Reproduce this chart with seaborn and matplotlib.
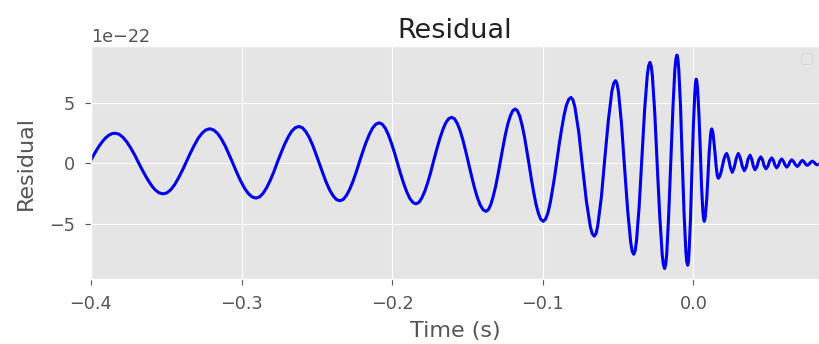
import numpy as np
import pandas as pd
import matplotlib
matplotlib.use("Agg")
import matplotlib.pyplot as plt
import seaborn as sns

# Residual waveform, points (time in s, residual in units of 1e-22)
time_s = [
    -0.4000, -0.3980, -0.3960, -0.3940, -0.3920, -0.3900, -0.3880, -0.3860, -0.3841,
    -0.3814, -0.3788, -0.3761, -0.3734, -0.3707, -0.3681, -0.3654, -0.3627, -0.3600, -0.3574, -0.3547, -0.3520,
    -0.3494, -0.3468, -0.3443, -0.3417, -0.3391, -0.3365, -0.3339, -0.3313, -0.3288, -0.3262, -0.3236, -0.3210,
    -0.3185, -0.3159, -0.3134, -0.3108, -0.3083, -0.3057, -0.3032, -0.3006, -0.2981, -0.2955, -0.2930, -0.2904,
    -0.2880, -0.2857, -0.2833, -0.2809, -0.2785, -0.2762, -0.2738, -0.2714, -0.2690, -0.2667, -0.2643, -0.2619,
    -0.2596, -0.2574, -0.2551, -0.2528, -0.2506, -0.2483, -0.2460, -0.2438, -0.2415, -0.2392, -0.2370, -0.2347,
    -0.2325, -0.2304, -0.2282, -0.2260, -0.2238, -0.2217, -0.2195, -0.2173, -0.2151, -0.2130, -0.2108, -0.2086,
    -0.2066, -0.2045, -0.2025, -0.2005, -0.1984, -0.1964, -0.1944, -0.1923, -0.1903, -0.1883, -0.1862, -0.1842,
    -0.1822, -0.1803, -0.1783, -0.1763, -0.1743, -0.1724, -0.1704, -0.1684, -0.1664, -0.1645, -0.1625, -0.1605,
    -0.1586, -0.1567, -0.1548, -0.1529, -0.1510, -0.1491, -0.1472, -0.1453, -0.1434, -0.1415, -0.1396, -0.1377,
    -0.1361, -0.1345, -0.1329, -0.1312, -0.1296, -0.1280, -0.1264, -0.1248, -0.1232, -0.1215, -0.1199, -0.1183,
    -0.1168, -0.1152, -0.1137, -0.1121, -0.1106, -0.1090, -0.1075, -0.1059, -0.1044, -0.1028, -0.1013, -0.0997,
    -0.0982, -0.0966, -0.0951, -0.0936, -0.0920, -0.0905, -0.0890, -0.0874, -0.0859, -0.0844, -0.0828, -0.0813,
    -0.0800, -0.0787, -0.0761, -0.0736, -0.0710, -0.0684, -0.0671, -0.0658,
    -0.0646, -0.0635, -0.0611, -0.0588, -0.0564, -0.0541, -0.0529, -0.0517,
    -0.0507, -0.0497, -0.0477, -0.0457, -0.0436, -0.0416, -0.0406, -0.0396,
    -0.0387, -0.0378, -0.0360, -0.0342, -0.0324, -0.0306, -0.0297, -0.0288,
    -0.0280, -0.0272, -0.0256, -0.0240, -0.0223, -0.0207, -0.0199, -0.0191,
    -0.0184, -0.0177, -0.0164, -0.0150, -0.0136, -0.0123, -0.0116, -0.0109,
    -0.0103, -0.0097, -0.0085, -0.0074, -0.0062, -0.0050, -0.0044, -0.0038,
    -0.0033, -0.0029, -0.0019, -0.0010, 0.0000, 0.0010, 0.0014, 0.0019,
    0.0023, 0.0028, 0.0037, 0.0046, 0.0054, 0.0063, 0.0068, 0.0072,
    0.0076, 0.0080, 0.0089, 0.0097, 0.0105, 0.0114, 0.0118, 0.0122,
    0.0129, 0.0136, 0.0144, 0.0151, 0.0158, 0.0165,
    0.0174, 0.0184, 0.0193, 0.0202, 0.0212, 0.0221,
    0.0233, 0.0246, 0.0258,
    0.0271, 0.0285, 0.0298,
    0.0311, 0.0325, 0.0338,
    0.0351, 0.0363, 0.0376,
    0.0387, 0.0398, 0.0409,
    0.0422, 0.0434, 0.0447,
    0.0459, 0.0470, 0.0482,
    0.0495, 0.0507, 0.0520,
    0.0531, 0.0542, 0.0553,
    0.0564, 0.0575, 0.0586,
    0.0597, 0.0609, 0.0620,
    0.0631, 0.0642, 0.0653,
    0.0665, 0.0678, 0.0690,
    0.0701, 0.0712, 0.0723,
    0.0734, 0.0745, 0.0756,
    0.0767, 0.0779, 0.0790,
    0.0801, 0.0812, 0.0823, 0.0835,
]
residual_e22 = [
    0.27, 0.72, 1.15, 1.53, 1.86, 2.13, 2.33, 2.45, 2.49,
    2.41, 2.16, 1.76, 1.24, 0.64, -0.01, -0.65, -1.25, -1.77, -2.17, -2.42, -2.50,
    -2.41, -2.14, -1.72, -1.16, -0.52, 0.18, 0.87, 1.51, 2.07, 2.49, 2.76, 2.85,
    2.75, 2.47, 2.02, 1.43, 0.74, 0.00, -0.74, -1.43, -2.02, -2.47, -2.75, -2.85,
    -2.75, -2.46, -1.99, -1.38, -0.67, 0.10, 0.86, 1.57, 2.18, 2.65, 2.94, 3.04,
    2.94, 2.63, 2.15, 1.51, 0.78, -0.02, -0.81, -1.54, -2.18, -2.66, -2.97, -3.07,
    -2.96, -2.64, -2.13, -1.47, -0.69, 0.14, 0.96, 1.74, 2.40, 2.91, 3.23, 3.34,
    3.23, 2.89, 2.36, 1.68, 0.87, 0.01, -0.85, -1.66, -2.34, -2.87, -3.21, -3.32,
    -3.20, -2.84, -2.28, -1.54, -0.68, 0.24, 1.16, 2.02, 2.76, 3.32, 3.68, 3.80,
    3.67, 3.28, 2.67, 1.87, 0.93, -0.07, -1.07, -2.01, -2.81, -3.42, -3.81, -3.94,
    -3.80, -3.38, -2.71, -1.84, -0.82, 0.27, 1.36, 2.38, 3.25, 3.92, 4.34, 4.48,
    4.32, 3.86, 3.13, 2.17, 1.06, -0.14, -1.34, -2.45, -3.41, -4.14, -4.60, -4.76,
    -4.59, -4.08, -3.27, -2.21, -0.98, 0.34, 1.65, 2.88, 3.94, 4.75, 5.26, 5.43,
    5.24, 4.67, 2.58, -0.28, -3.13, -5.22, -5.79, -5.98,
    -5.76, -5.12, -2.78, 0.42, 3.61, 5.95, 6.59, 6.81,
    6.57, 5.85, 3.24, -0.33, -3.90, -6.51, -7.23, -7.47,
    -7.20, -6.41, -3.53, 0.42, 4.37, 7.25, 8.04, 8.31,
    8.02, 7.17, 4.07, -0.17, -4.40, -7.50, -8.35, -8.64,
    -8.34, -7.46, -4.25, 0.14, 4.52, 7.73, 8.61, 8.91,
    8.62, 7.75, 4.59, 0.27, -4.05, -7.21, -8.08, -8.37,
    -8.11, -7.35, -4.55, -0.72, 3.11, 5.91, 6.67, 6.93,
    6.73, 6.15, 4.01, 1.09, -1.84, -3.98, -4.56, -4.76,
    -4.63, -4.25, -2.86, -0.96, 0.94, 2.33, 2.71, 2.84,
    2.57, 1.83, 0.81, -0.21, -0.95, -1.22,
    -1.08, -0.71, -0.20, 0.31, 0.68, 0.82,
    0.43, -0.34, -0.73,
    -0.34, 0.43, 0.82,
    0.47, -0.25, -0.60,
    -0.28, 0.36, 0.68,
    0.38, -0.22, -0.52,
    -0.26, 0.28, 0.54,
    0.30, -0.20, -0.44,
    -0.22, 0.24, 0.46,
    0.26, -0.16, -0.36,
    -0.18, 0.19, 0.37,
    0.20, -0.13, -0.30,
    -0.15, 0.15, 0.30,
    0.16, -0.11, -0.25,
    -0.12, 0.12, 0.25,
    0.15, -0.06, -0.16,
    -0.07, 0.10, 0.19,
    0.10, -0.05, -0.12, -0.05,
]
x_ticks = [-0.4, -0.3, -0.2, -0.1, 0.0]
y_ticks_e22 = [-5, 0, 5]

df = pd.DataFrame({"Time (s)": time_s,
                   "Residual": np.array(residual_e22) * 1e-22})

plt.style.use("ggplot")
fig = plt.figure(figsize=(8.19, 3.44), dpi=100)
ax = fig.add_axes([0.111, 0.189, 0.889, 0.677])

sns.lineplot(data=df, x="Time (s)", y="Residual", color="#0000ee",
             linewidth=2.2, estimator=None, sort=False, ax=ax)

ax.set_xlim(-0.4, 0.0834)
ax.set_ylim(-9.5e-22, 9.65e-22)
ax.set_xticks(x_ticks)
ax.set_yticks(np.array(y_ticks_e22) * 1e-22)
ax.tick_params(axis="both", labelsize=12.7, colors="#555555",
               length=4, pad=7.5)
ax.yaxis.get_offset_text().set_fontsize(12.7)
ax.yaxis.get_offset_text().set_color("#555555")
ax.set_xlabel("Time (s)", fontsize=16, color="#555555")
ax.set_ylabel("Residual", fontsize=16, color="#555555")
ax.xaxis.set_label_coords(0.5, -0.180)
ax.yaxis.set_label_coords(-0.075, 0.5)
ax.set_title("Residual", fontsize=19.5, color="#222222")
ax.legend()

fig.savefig("out.png", dpi=100)
